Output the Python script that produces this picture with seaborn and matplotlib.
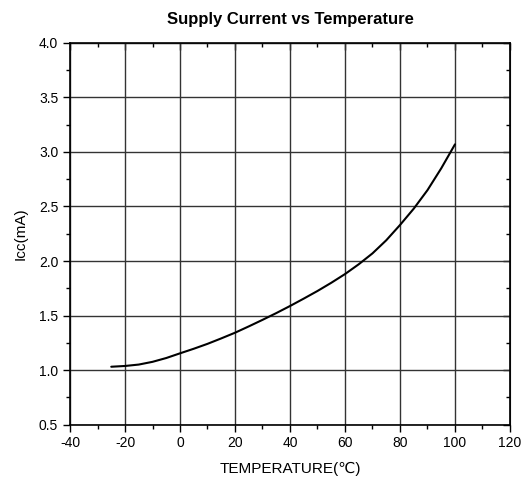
import numpy as np
import pandas as pd
import matplotlib.pyplot as plt
import seaborn as sns

# Valores
temperatura = [-25, -20, -15, -10, -5, 0, 5, 10, 15, 20, 25, 30, 35, 40, 45, 50, 55, 60, 65, 70, 75, 80, 85, 90, 95, 100]
icc_ma = [1.03, 1.037, 1.05, 1.075, 1.11, 1.153, 1.195, 1.24, 1.29, 1.342, 1.40, 1.46, 1.522, 1.587, 1.655, 1.725, 1.80, 1.88, 1.97, 2.07, 2.19, 2.33, 2.48, 2.65, 2.85, 3.07]

df = pd.DataFrame({'TEMPERATURE': temperatura, 'Icc': icc_ma})

sns.set_style('ticks')
plt.rcParams['font.family'] = ['Liberation Sans', 'DejaVu Sans']
plt.rcParams['axes.unicode_minus'] = False
for k in ['text.color', 'axes.labelcolor', 'xtick.color', 'ytick.color', 'xtick.labelcolor', 'ytick.labelcolor']:
    plt.rcParams[k] = 'black'

fig = plt.figure(figsize=(5.32, 4.84), dpi=100)
ax = fig.add_axes([0.1316, 0.1229, 0.8270, 0.7883])

sns.lineplot(x='TEMPERATURE', y='Icc', data=df, color='black', linewidth=1.5, ax=ax)

ax.set_xlim(-40, 120)
ax.set_ylim(0.5, 4.0)
ax.set_xticks(np.arange(-40, 121, 20))
ax.set_yticks(np.arange(0.5, 4.01, 0.5))
ax.set_xticks(np.arange(-30, 120, 20), minor=True)
ax.set_yticks(np.arange(0.75, 4.0, 0.5), minor=True)
ax.set_yticklabels([f'{v:.1f}' for v in np.arange(0.5, 4.01, 0.5)])

ax.grid(True, which='major', color='#333333', linewidth=1.0)
ax.tick_params(which='both', direction='out', labelsize=10, color='black', width=1)
ax.tick_params(which='major', length=5)
ax.tick_params(which='minor', length=3)

# ticks hacia dentro arriba y a la derecha
top = ax.secondary_xaxis('top')
top.set_xticks(np.arange(-40, 121, 20))
top.set_xticks(np.arange(-30, 120, 20), minor=True)
top.tick_params(which='both', direction='in', labeltop=False, width=1)
top.tick_params(which='major', length=5)
top.tick_params(which='minor', length=3)
right = ax.secondary_yaxis('right')
right.set_yticks(np.arange(0.5, 4.01, 0.5))
right.set_yticks(np.arange(0.75, 4.0, 0.5), minor=True)
right.tick_params(which='both', direction='in', labelright=False, width=1)
right.tick_params(which='major', length=5)
right.tick_params(which='minor', length=3)

for s in ax.spines.values():
    s.set_color('black')
    s.set_linewidth(1.2)

ax.set_xlabel('TEMPERATURE(℃)', fontsize=11, labelpad=8)
ax.set_ylabel('Icc(mA)', fontsize=11, labelpad=8)
ax.set_title('Supply Current vs Temperature', fontsize=12, fontweight='bold', pad=14)

plt.savefig('out.png', dpi=100)
